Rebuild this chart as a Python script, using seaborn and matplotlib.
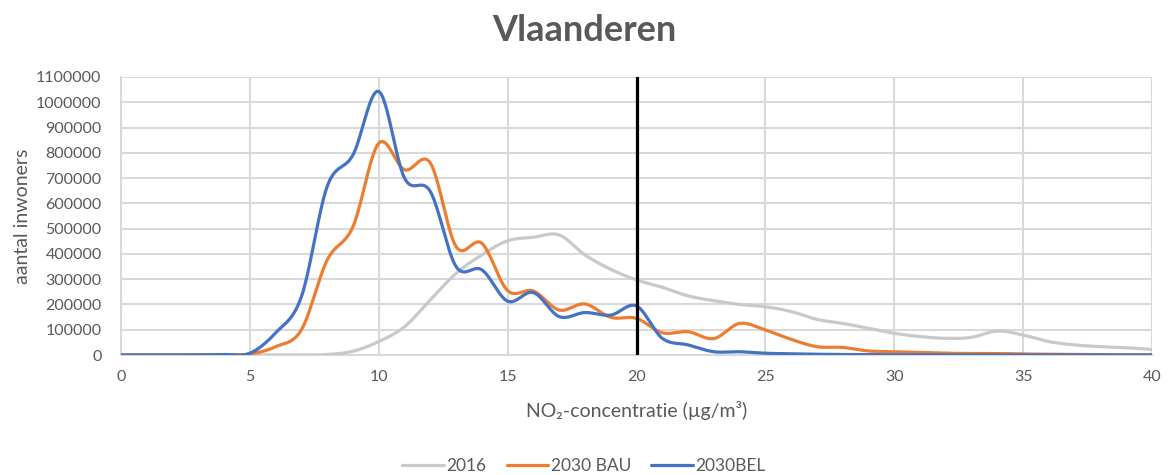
import numpy as np
import pandas as pd
import matplotlib
matplotlib.use("Agg")
import matplotlib.pyplot as plt
from matplotlib.ticker import MultipleLocator, FuncFormatter
import seaborn as sns

# NO2 concentration classes (µg/m³) and number of inhabitants per class
concentratie = list(range(0, 41))

inwoners_2016 = [0, 0, 0, 0, 0, 0, 0, 0, 2000, 15000,
                 53000, 112000, 218000, 323000, 396000, 452000, 466000, 475000, 396000, 339000,
                 297000, 268000, 234000, 215000, 200000, 191000, 172000, 141000, 125000, 106000,
                 86000, 73000, 66000, 70000, 95000, 79000, 53000, 40000, 33000, 29000,
                 22000]

inwoners_2030_bau = [0, 0, 0, 0, 1000, 4000, 33000, 100000, 376000, 508000,
                     838000, 733000, 760000, 429000, 442000, 255000, 253000, 178000, 202000, 149000,
                     145000, 88000, 92000, 65000, 125000, 99000, 62000, 33000, 30000, 16000,
                     13000, 10000, 7000, 6000, 6000, 4000, 3000, 2000, 1000, 1000,
                     500]

inwoners_2030_bel = [0, 0, 0, 0, 2000, 7000, 88000, 231000, 667000, 792000,
                     1043000, 700000, 647000, 350000, 337000, 213000, 247000, 152000, 168000, 158000,
                     194000, 66000, 40000, 13000, 13000, 7000, 5000, 3000, 2000, 1500,
                     1000, 1000, 500, 500, 500, 500, 0, 0, 0, 0,
                     0]

reeksen = ["2016", "2030 BAU", "2030BEL"]
kleuren = ["#c9c9c9", "#ed7d31", "#4472c4"]
grenswaarde = 20


def smooth(x, y, steps=20):
    """Smoothed line through the points (cubic Bézier, Catmull-Rom control points)."""
    x = np.asarray(x, float)
    y = np.asarray(y, float)
    px = np.concatenate([[x[0]], x, [x[-1]]])
    py = np.concatenate([[y[0]], y, [y[-1]]])
    xs, ys = [], []
    t = np.linspace(0, 1, steps, endpoint=False)
    for i in range(len(x) - 1):
        p0 = np.array([x[i], y[i]])
        p3 = np.array([x[i + 1], y[i + 1]])
        c1 = p0 + (np.array([px[i + 2], py[i + 2]]) - np.array([px[i], py[i]])) / 6
        c2 = p3 - (np.array([px[i + 3], py[i + 3]]) - np.array([px[i + 1], py[i + 1]])) / 6
        b = ((1 - t) ** 3)[:, None] * p0 + (3 * (1 - t) ** 2 * t)[:, None] * c1 \
            + (3 * (1 - t) * t ** 2)[:, None] * c2 + (t ** 3)[:, None] * p3
        xs.append(b[:, 0])
        ys.append(b[:, 1])
    xs.append([x[-1]])
    ys.append([y[-1]])
    return np.concatenate(xs), np.concatenate(ys)


frames = []
for naam, waarden in zip(reeksen, [inwoners_2016, inwoners_2030_bau, inwoners_2030_bel]):
    sx, sy = smooth(concentratie, waarden)
    frames.append(pd.DataFrame({"x": sx, "y": sy, "reeks": naam}))
df = pd.concat(frames, ignore_index=True)

sns.set_theme(style="white")
plt.rcParams["font.family"] = ["Lato", "DejaVu Sans"]

tekst = "#595959"
raster = "#d9d9d9"

fig = plt.figure(figsize=(11.68, 4.75), dpi=100)
ax = fig.add_axes([0.1036, 0.2526, 0.8827, 0.5853])

sns.lineplot(data=df, x="x", y="y", hue="reeks", hue_order=reeksen,
             palette=kleuren, linewidth=2.3, ax=ax, sort=False, estimator=None,
             legend=False, zorder=3)

ax.axvline(grenswaarde, color="black", linewidth=2.3, zorder=4)

ax.set_xlim(0, 40)
ax.set_ylim(0, 1100000)
ax.xaxis.set_major_locator(MultipleLocator(5))
ax.xaxis.set_minor_locator(MultipleLocator(1))
ax.yaxis.set_major_locator(MultipleLocator(100000))
ax.yaxis.set_minor_locator(MultipleLocator(20000))
ax.yaxis.set_major_formatter(FuncFormatter(lambda v, p: f"{int(round(v))}"))

ax.grid(True, which="major", color=raster, linewidth=1.5, zorder=0)
ax.set_axisbelow(True)
for s in ["top", "right"]:
    ax.spines[s].set_visible(False)
for s in ["left", "bottom"]:
    ax.spines[s].set_color(raster)
    ax.spines[s].set_linewidth(1.5)

ax.tick_params(axis="both", which="both", direction="out", colors=raster,
               labelcolor=tekst, labelsize=11.5)
ax.tick_params(axis="both", which="major", length=5, width=1.2)
ax.tick_params(axis="both", which="minor", length=4, width=1.0)
ax.tick_params(axis="y", which="major", pad=9)
ax.tick_params(axis="x", which="major", pad=6)

ax.set_xlabel("NO₂-concentratie (µg/m³)", fontsize=14, color=tekst, labelpad=12)
ax.set_ylabel("aantal inwoners", fontsize=14, color=tekst, labelpad=4)

fig.suptitle("Vlaanderen", fontsize=26, fontweight="bold", color=tekst, y=0.97)

handles = [plt.Line2D([], [], color=c, linewidth=2.3) for c in kleuren]
fig.legend(handles, reeksen, loc="lower center", bbox_to_anchor=(0.5, -0.03),
           ncol=3, frameon=False, fontsize=12.5, handlelength=2.4,
           columnspacing=1.15, handletextpad=0.15, labelcolor=tekst)

fig.savefig("out.png", dpi=100)
